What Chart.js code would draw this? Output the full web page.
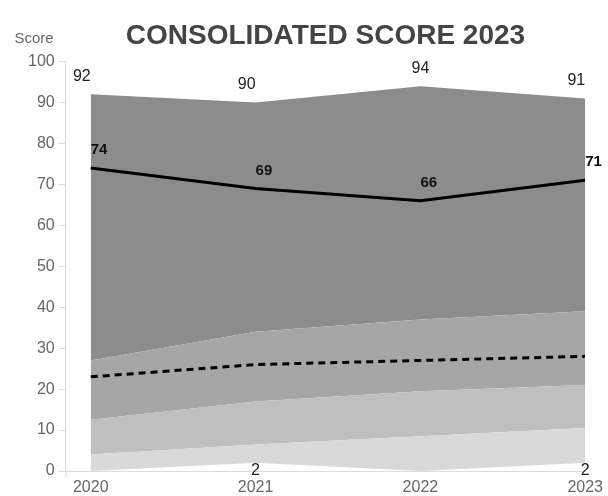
<!DOCTYPE html>
<html>
<head>
<meta charset="utf-8">
<script src="https://cdn.jsdelivr.net/npm/chart.js@4"></script>
<style>
	html, body { margin: 0; padding: 0; background: #fff; }
	#wrap { width: 608px; height: 496px; }
</style>
</head>
<body>
<div id="wrap"><canvas id="chart" width="608" height="496"></canvas></div>
<script>
	'use strict';

	// values
	var years = [2020, 2021, 2022, 2023];
	var minScore = [0, 2, 0, 2];
	var band1Top = [4, 6.5, 8.5, 10.5];
	var band2Top = [12.5, 17, 19.5, 21];
	var band3Top = [27, 34, 37, 39];
	var maxScore = [92, 90, 94, 91];
	var medianScore = [74, 69, 66, 71];
	var dashedScore = [23, 26, 27, 28];
	var yTicks = [0, 10, 20, 30, 40, 50, 60, 70, 80, 90, 100];
	var maxLabelAlign = ['right', 'right', 'center', 'right'];

	var FONT = "'Liberation Sans', Arial, sans-serif";

	function points(values) {
		return years.map(function (y, i) { return { x: y, y: values[i] }; });
	}

	function band(values, colour) {
		return {
			data: points(values),
			fill: '-1',
			backgroundColor: colour,
			borderWidth: 0,
			pointRadius: 0,
			order: 1
		};
	}

	var labelPlugin = {
		id: 'scoreLabels',
		afterDatasetsDraw: function (chart) {
			var ctx = chart.ctx;
			var maxMeta = chart.getDatasetMeta(4);
			var minMeta = chart.getDatasetMeta(0);
			var medMeta = chart.getDatasetMeta(5);
			ctx.save();
			ctx.textBaseline = 'middle';

			ctx.fillStyle = '#222';
			ctx.font = '16px ' + FONT;
			maxMeta.data.forEach(function (pt, i) {
				ctx.textAlign = maxLabelAlign[i];
				ctx.fillText(String(maxScore[i]), pt.x, pt.y - 18);
			});

			ctx.textAlign = 'center';
			minMeta.data.forEach(function (pt, i) {
				if (minScore[i] > 0) {
					ctx.fillText(String(minScore[i]), pt.x, pt.y + 8);
				}
			});

			ctx.fillStyle = '#111';
			ctx.font = 'bold 15px ' + FONT;
			ctx.textAlign = 'left';
			medMeta.data.forEach(function (pt, i) {
				ctx.fillText(String(medianScore[i]), pt.x, pt.y - 18);
			});

			// axis name above the y axis
			var ys = chart.scales.y;
			ctx.fillStyle = '#666';
			ctx.font = '15px ' + FONT;
			ctx.textAlign = 'center';
			ctx.fillText('Score', 34, ys.top - 23);
			ctx.restore();
		}
	};

	// small tick under the corner of the axes
	var cornerPlugin = {
		id: 'cornerTick',
		afterDraw: function (chart) {
			var ctx = chart.ctx, a = chart.chartArea;
			ctx.save();
			ctx.strokeStyle = '#d9dde3';
			ctx.lineWidth = 1;
			ctx.beginPath();
			ctx.moveTo(a.left + 0.5, a.bottom);
			ctx.lineTo(a.left + 0.5, a.bottom + 7);
			ctx.stroke();
			ctx.restore();
		}
	};

	new Chart(document.getElementById('chart'), {
		type: 'line',
		data: {
			datasets: [
				{ data: points(minScore), fill: false, borderWidth: 0, pointRadius: 0, order: 1 },
				band(band1Top, '#d9d9d9'),
				band(band2Top, '#bfbfbf'),
				band(band3Top, '#a6a6a6'),
				band(maxScore, '#8c8c8c'),
				{
					data: points(medianScore),
					fill: false,
					borderColor: '#000',
					borderWidth: 3,
					pointRadius: 0,
					order: 0
				},
				{
					data: points(dashedScore),
					fill: false,
					borderColor: '#000',
					borderWidth: 3,
					borderDash: [7, 5],
					pointRadius: 0,
					order: 0
				}
			]
		},
		options: {
			responsive: false,
			animation: false,
			layout: { padding: { left: 24, right: 0, bottom: -9 } },
			plugins: {
				legend: { display: false },
				tooltip: { enabled: false },
				title: {
					display: true,
					text: 'CONSOLIDATED SCORE 2023',
					fullSize: false,
					color: '#444',
					font: { family: FONT, size: 28, weight: 'bold' },
					padding: { top: 19, bottom: 9 }
				}
			},
			scales: {
				x: {
					type: 'linear',
					min: 2019.848,
					max: 2023,
					afterBuildTicks: function (axis) {
						axis.ticks = years.map(function (v) { return { value: v }; });
					},
					grid: { display: false, drawTicks: false },
					border: { display: true, color: '#d9dde3', width: 1 },
					ticks: {
						color: '#666',
						padding: 5,
						maxRotation: 0,
						font: { family: FONT, size: 16, lineHeight: 1.5 },
						callback: function (v) { return String(v); }
					}
				},
				y: {
					min: 0,
					max: 100,
					afterBuildTicks: function (axis) {
						axis.ticks = yTicks.map(function (v) { return { value: v }; });
					},
					grid: { drawOnChartArea: false, drawTicks: true, tickLength: 7, color: '#d9dde3' },
					border: { display: true, color: '#d9dde3', width: 1 },
					ticks: {
						color: '#666',
						padding: 4,
						font: { family: FONT, size: 16 }
					}
				}
			}
		},
		plugins: [labelPlugin, cornerPlugin]
	});
</script>
</body>
</html>
